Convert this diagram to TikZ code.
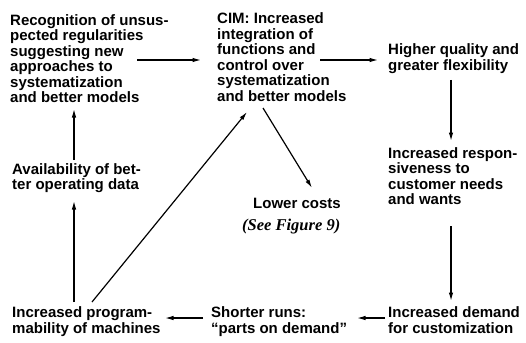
\documentclass[tikz,border=0pt]{standalone}
\usepackage{fontspec}
\setmainfont{Liberation Sans}
\newfontfamily\notefont{Liberation Serif}
\usetikzlibrary{arrows.meta,calc}

\begin{document}
\begin{tikzpicture}[x=1pt,y=-1pt,
  label/.style={anchor=north west,inner sep=0pt,align=left,
    font=\bfseries\fontsize{15}{15.5}\selectfont},
  note/.style={anchor=north west,inner sep=0pt,
    font=\notefont\bfseries\itshape\fontsize{16.5}{18}\selectfont},
  arr/.style={line width=1.2pt,-{Latex[length=8.5pt,width=4.5pt]}}]
\useasboundingbox (0,0) rectangle (526,342);

% statements of the cycle
\node[label] (rec) at (10,14) {Recognition of unsus-\\pected regularities\\suggesting new\\approaches to\\systematization\\and better models};
\node[label] (cim) at (217,12.5) {CIM: Increased\\integration of\\functions and\\control over\\systematization\\and better models};
\node[label] (higher) at (388,43.5) {Higher quality and\\greater flexibility};
\node[label] (resp) at (388,147) {Increased respon-\\siveness to\\customer needs\\and wants};
\node[label] (avail) at (12,163) {Availability of bet-\\ter operating data};
\node[label] (lower) at (253,197.5) {Lower costs};
\node[note] (seefig) at (242,219) {(See Figure 9)};
\node[label,font=\bfseries\fontsize{15}{16.5}\selectfont] (prog) at (12,306) {Increased program-\\mability of machines};
\node[label,font=\bfseries\fontsize{15}{16.5}\selectfont] (shorter) at (211,306) {Shorter runs:\\“parts on demand”};
\node[label,font=\bfseries\fontsize{15}{16.5}\selectfont] (demand) at (388,306) {Increased demand\\for customization};

% causal links
\draw[arr] ($(rec.north west)+(127,46)$) -- ($(cim.north west)+(-16,47.5)$);
\draw[arr] ($(cim.north west)+(103,47.5)$) -- ($(higher.north west)+(-10,16.5)$);
\draw[arr] ($(higher.north west)+(63,36.5)$) -- ($(resp.north west)+(63,-6)$);
\draw[arr] ($(resp.north west)+(63,79)$) -- ($(demand.north west)+(63,-5)$);
\draw[arr] ($(demand.north west)+(-3,12)$) -- ($(shorter.north west)+(146,12)$);
\draw[arr] ($(shorter.north west)+(-8,12)$) -- ($(prog.north west)+(153,12)$);
\draw[arr] ($(prog.north west)+(62,-4)$) -- ($(avail.north west)+(62,38)$);
\draw[arr] ($(avail.north west)+(62,-3)$) -- ($(rec.north west)+(64,95)$);
\draw[arr] ($(prog.north west)+(80,-4)$) -- ($(cim.north west)+(30,99.5)$);
\draw[arr] ($(cim.north west)+(46,95.5)$) -- ($(lower.north west)+(59,-9.5)$);
\end{tikzpicture}
\end{document}
